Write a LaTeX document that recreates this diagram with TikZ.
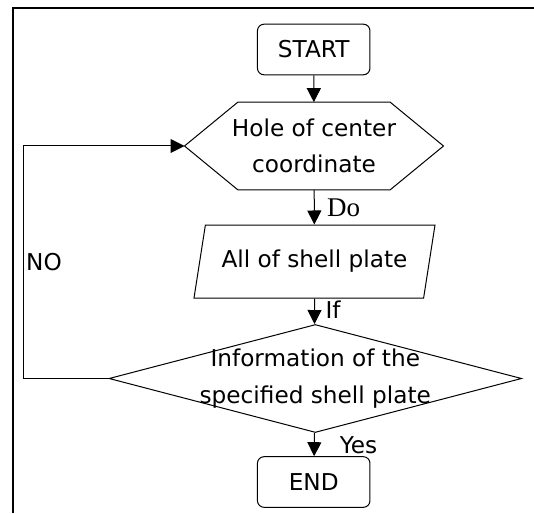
\documentclass[tikz,border=0pt]{standalone}
\usepackage{fontspec}
\setmainfont{DejaVu Sans}
\newfontfamily\labelserif{Liberation Serif}
\usetikzlibrary{arrows.meta,shapes.geometric}

\tikzset{every picture/.style={line width=0.75pt}}
\tikzset{
  boxfont/.style={font=\fontsize{17.4}{27.5}\selectfont},
  terminal/.style={draw, rounded corners=5pt, minimum width=84.4pt, minimum height=38pt, inner sep=0pt, boxfont},
  hexbox/.style={minimum width=193.5pt, minimum height=65pt, inner sep=0pt, align=center, boxfont},
  platebox/.style={draw, trapezium, trapezium left angle=63.1, trapezium right angle=116.9, trapezium stretches body, minimum width=180.75pt, minimum height=54.75pt, inner sep=0pt, boxfont},
  decision/.style={draw, diamond, aspect=3.82, minimum width=309.5pt, minimum height=81pt, inner sep=0pt},
  flowarrow/.style={-{Triangle[length=10.5pt,width=10.5pt]}},
  flowlabel/.style={inner sep=0.75pt, boxfont}
}

\begin{document}
\begin{tikzpicture}[x=0.75pt,y=0.75pt,yscale=-1,xscale=1]
\useasboundingbox (0,0) rectangle (534,513);

%Frame
\draw [line width=1.5pt] (12.5,513) -- (12.5,8) -- (534,8) ;

%Shape: Terminal
\node [terminal] (start) at (313.7,49.5) {START};
%Shape: Hexagon
\node [hexbox] (hole) at (314,146) {Hole of center\\coordinate};
\draw ([xshift=40pt]hole.north west) -- ([xshift=-40pt]hole.north east) -- (hole.east) -- ([xshift=-40pt]hole.south east) -- ([xshift=40pt]hole.south west) -- (hole.west) -- cycle ;
%Shape: Parallelogram
\node [platebox] (plate) at (314.5,261.5) {All of shell plate};
%Shape: Diamond
\node [decision] (check) at (315.3,378.5) {};
\node [boxfont, align=center, inner sep=0pt] (checktext) at (check) {Information of the\\specified shell plate};
%Shape: Terminal
\node [terminal] (finish) at (313.7,482) {END};

%Straight Lines
\draw [flowarrow] (start) -- (hole) ;
\draw [flowarrow] (hole) -- (plate) ;
\draw [flowarrow] (plate) -- (plate |- check.north) ;
\draw [flowarrow] (plate |- check.south) -- (finish) ;
\coordinate (loopcorner) at (23.8,378.5) ;
\draw [flowarrow] (check.west) -- (loopcorner) |- (hole.west) ;

% Text Node
\node [flowlabel, font=\labelserif\fontsize{20.25}{24}\selectfont] (dolabel) at (343.5,208) {Do};
% Text Node
\node [flowlabel] (iflabel) at (333,310) {If};
% Text Node
\node [flowlabel] (yeslabel) at (358.5,445) {Yes};
% Text Node
\node [flowlabel] (nolabel) at (44,262) {NO};

\end{tikzpicture}
\end{document}
